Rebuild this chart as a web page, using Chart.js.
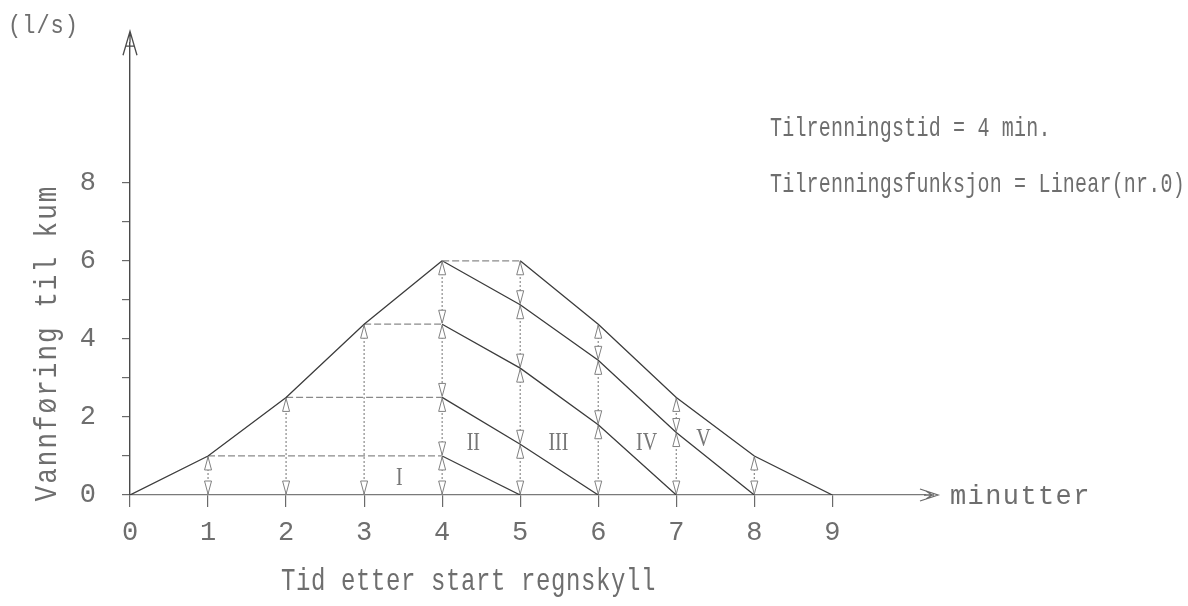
<!DOCTYPE html>
<html>
<head>
<meta charset="utf-8">
<script src="https://cdn.jsdelivr.net/npm/chart.js@4"></script>
<style>
  html, body { margin: 0; padding: 0; background: #ffffff; }
  #wrap { width: 1188px; height: 606px; }
</style>
</head>
<body>
<div id="wrap"><canvas id="c" width="1188" height="606"></canvas></div>
<script>
// ---- data ----
const minutes = [0, 1, 2, 3, 4, 5, 6, 7, 8, 9];
const totalFlow = [0, 1, 2.5, 4.375, 6, 6, 4.375, 2.5, 1, 0];

const layerI_x = [1, 4, 5];
const layerI_y = [1, 1, 0];
const layerII_x = [2, 4, 5, 6];
const layerII_y = [2.5, 2.5, 1.3, 0];
const layerIII_x = [3, 4, 5, 6, 7];
const layerIII_y = [4.375, 4.375, 3.25, 1.8, 0];
const layerIV_x = [4, 5, 6, 7, 8];
const layerIV_y = [6, 4.875, 3.45, 1.6, 0];

const yTickValues = [0, 1, 2, 3, 4, 5, 6, 7, 8];
const yLabelValues = [0, 2, 4, 6, 8];
const arrowMinutes = [1, 2, 3, 4, 5, 6, 7, 8];

const regionNames = ['I', 'II', 'III', 'IV', 'V'];
const regionX = [3.45, 4.4, 5.49, 6.62, 7.35];
const regionY = [0.45, 1.35, 1.35, 1.35, 1.45];

const yUnit = '(l/s)';
const yTitle = 'Vannføring til kum';
const xTitle = 'Tid etter start regnskyll';
const xUnit = 'minutter';
const note1 = 'Tilrenningstid = 4 min.';
const note2 = 'Tilrenningsfunksjon = Linear(nr.0)';

// ---- build datasets ----
const pts = (xs, ys) => xs.map((x, i) => ({ x: x, y: ys[i] }));
const series = [
  pts(minutes, totalFlow),
  pts(layerI_x, layerI_y),
  pts(layerII_x, layerII_y),
  pts(layerIII_x, layerIII_y),
  pts(layerIV_x, layerIV_y)
];

// levels at each arrow minute, taken from the series
function levelsAt(m) {
  const set = new Set([0]);
  series.forEach(s => s.forEach(p => { if (p.x === m) set.add(p.y); }));
  return Array.from(set).sort((a, b) => a - b);
}

const lineColor = '#3c3c3c';
const hColor = '#8a8a8a';
const textColor = '#6e6e6e';

const datasets = series.map((s, i) => ({
  data: s,
  showLine: true,
  borderColor: lineColor,
  borderWidth: 1.3,
  pointRadius: 0,
  tension: 0,
  segment: {
    borderDash: c => (c.p0.parsed.y === c.p1.parsed.y ? [7, 3] : undefined),
    borderColor: c => (c.p0.parsed.y === c.p1.parsed.y ? hColor : undefined)
  },
  order: 1
}));

arrowMinutes.forEach(m => {
  const lv = levelsAt(m);
  datasets.push({
    data: lv.map(v => ({ x: m, y: v })),
    showLine: true,
    borderColor: '#8a8a8a',
    borderWidth: 1.2,
    borderDash: [2, 2],
    pointRadius: 0,
    isArrow: true,
    order: 2
  });
});

// ---- plugins ----
function txt(ctx, s, x, y, o) {
  ctx.save();
  ctx.translate(x, y);
  if (o.rotate) ctx.rotate(o.rotate);
  ctx.scale(1, o.k || 1);
  ctx.font = (o.size || 20) + 'px ' + (o.family || '"Liberation Mono"');
  ctx.letterSpacing = (o.spacing || 0) + 'px';
  ctx.fillStyle = o.color || textColor;
  ctx.textAlign = o.align || 'left';
  ctx.textBaseline = o.baseline || 'alphabetic';
  ctx.fillText(s, 0, 0);
  ctx.restore();
}

const decor = {
  id: 'decor',
  afterDatasetsDraw(chart) {
    const ctx = chart.ctx;
    const xs = chart.scales.x, ys = chart.scales.y;
    ctx.save();
    ctx.strokeStyle = '#808080';
    ctx.fillStyle = '#ffffff';
    ctx.lineWidth = 1;
    ctx.setLineDash([]);
    chart.data.datasets.forEach(ds => {
      if (!ds.isArrow) return;
      const px = xs.getPixelForValue(ds.data[0].x);
      for (let i = 0; i < ds.data.length - 1; i++) {
        const a = ys.getPixelForValue(ds.data[i].y);
        const b = ys.getPixelForValue(ds.data[i + 1].y);
        const L = Math.min(13, (a - b) / 2.6);
        const w = 3.5;
        ctx.beginPath();
        ctx.moveTo(px, a - 1); ctx.lineTo(px - w, a - 1 - L); ctx.lineTo(px + w, a - 1 - L); ctx.closePath();
        ctx.fill(); ctx.stroke();
        ctx.beginPath();
        ctx.moveTo(px, b + 1); ctx.lineTo(px - w, b + 1 + L); ctx.lineTo(px + w, b + 1 + L); ctx.closePath();
        ctx.fill(); ctx.stroke();
      }
    });
    ctx.restore();
  },
  afterDraw(chart) {
    const ctx = chart.ctx;
    const xs = chart.scales.x, ys = chart.scales.y;
    const x0 = xs.getPixelForValue(0), y0 = ys.getPixelForValue(0);
    const top = chart.chartArea.top, right = chart.chartArea.right;
    ctx.save();
    ctx.setLineDash([]);
    ctx.strokeStyle = '#4a4a4a';
    ctx.lineWidth = 1.3;
    ctx.beginPath();
    ctx.moveTo(x0, top); ctx.lineTo(x0, top - 11);
    ctx.moveTo(x0 - 7, top + 13); ctx.lineTo(x0, top - 11); ctx.lineTo(x0 + 7, top + 13);
    ctx.moveTo(x0 - 4, top + 4); ctx.lineTo(x0 + 4, top + 4);
    ctx.stroke();
    ctx.strokeStyle = '#6a6a6a';
    ctx.beginPath();
    ctx.moveTo(right - 2, y0); ctx.lineTo(right + 8, y0);
    ctx.moveTo(right - 6, y0 - 6); ctx.lineTo(right + 12, y0); ctx.lineTo(right - 6, y0 + 6);
    ctx.moveTo(right, y0 - 4); ctx.lineTo(right + 6, y0); ctx.lineTo(right, y0 + 4);
    ctx.stroke();
    ctx.restore();

    txt(ctx, yUnit, 8, 33, { size: 22, spacing: 1, k: 1.15 });
    txt(ctx, yTitle, 56, 343, { size: 26, spacing: 2, k: 1.2, rotate: -Math.PI / 2, align: 'center' });
    txt(ctx, xTitle, 281, 590, { size: 24, spacing: 0.6, k: 1.3 });
    txt(ctx, xUnit, 950, 504, { size: 27, spacing: 1.4, k: 1.05 });
    txt(ctx, note1, 770, 136, { size: 20, spacing: 0.2, k: 1.35 });
    txt(ctx, note2, 770, 192, { size: 20, spacing: 0.2, k: 1.35 });

    regionNames.forEach((n, i) => {
      const px = xs.getPixelForValue(regionX[i]);
      const py = ys.getPixelForValue(regionY[i]);
      txt(ctx, n, px, py + 8, { size: 20, k: 1.3, family: '"Liberation Serif"', align: 'center', color: '#777' });
    });
  }
};

new Chart(document.getElementById('c'), {
  type: 'scatter',
  data: { datasets: datasets },
  options: {
    responsive: false,
    animation: false,
    layout: { padding: { left: 0, top: 29, right: 262, bottom: 0 } },
    plugins: { legend: { display: false }, tooltip: { enabled: false } },
    scales: {
      x: {
        type: 'linear',
        min: 0,
        max: 10.2,
        afterBuildTicks: s => { s.ticks = minutes.map(v => ({ value: v })); },
        afterFit: s => { s.height = 111; },
        grid: { drawOnChartArea: false, drawTicks: true, tickLength: 12, color: '#6a6a6a', lineWidth: 1.2 },
        border: { display: true, color: '#7a7a7a', width: 1.2, dash: [8, 2] },
        ticks: {
          color: textColor,
          font: { family: '"Liberation Mono"', size: 27 },
          padding: 10,
          maxRotation: 0,
          autoSkip: false
        }
      },
      y: {
        type: 'linear',
        min: 0,
        max: 11.6,
        afterBuildTicks: s => { s.ticks = yTickValues.map(v => ({ value: v })); },
        afterFit: s => { s.width = 130; },
        grid: { drawOnChartArea: false, drawTicks: true, tickLength: 8, color: '#6a6a6a', lineWidth: 1.2 },
        border: { display: true, color: '#4a4a4a', width: 1.4 },
        ticks: {
          color: textColor,
          font: { family: '"Liberation Mono"', size: 27 },
          padding: 26,
          autoSkip: false,
          callback: v => (yLabelValues.includes(v) ? String(v) : '')
        }
      }
    }
  },
  plugins: [decor]
});
</script>
</body>
</html>
